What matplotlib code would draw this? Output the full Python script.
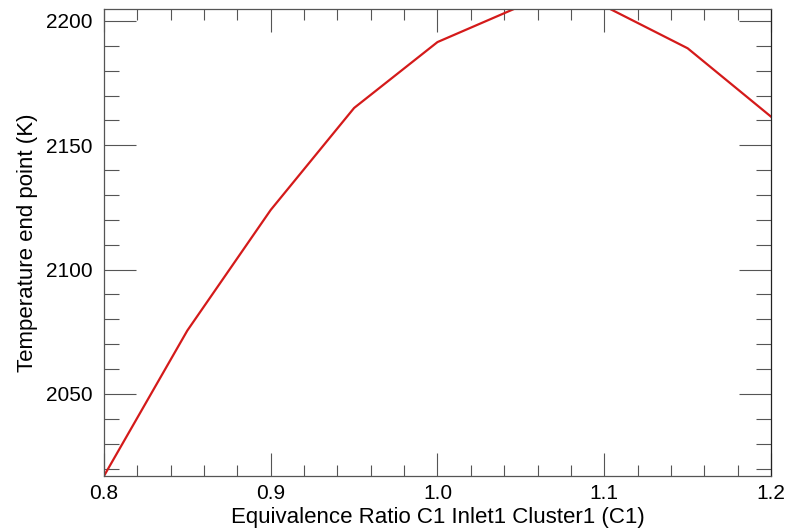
import matplotlib
matplotlib.use('Agg')
import matplotlib.pyplot as plt
from matplotlib.ticker import MultipleLocator

# Equivalence ratio sweep
phi = [0.80, 0.85, 0.90, 0.95, 1.00, 1.05, 1.10, 1.15, 1.20]
temp_end = [2017, 2075.5, 2124, 2165, 2191.5, 2206, 2206, 2189, 2161.5]

plt.rcParams['font.family'] = ['Liberation Sans', 'DejaVu Sans']

fig = plt.figure(figsize=(7.87, 5.29), dpi=100)
ax = fig.add_axes([0.1321, 0.1002, 0.8476, 0.8828])

ax.plot(phi, temp_end, color='#d41a1a', linewidth=1.6)

ax.set_xlim(0.8, 1.2)
ax.set_ylim(2017, 2204.8)
ax.xaxis.set_major_locator(MultipleLocator(0.1))
ax.xaxis.set_minor_locator(MultipleLocator(0.02))
ax.yaxis.set_major_locator(MultipleLocator(50))
ax.yaxis.set_minor_locator(MultipleLocator(10))
ax.set_xticks([0.8, 0.9, 1.0, 1.1, 1.2], ['0.8', '0.9', '1.0', '1.1', '1.2'])

tick_col = '#555555'
ax.tick_params(axis='both', which='both', direction='in', top=True, right=True,
               color=tick_col, width=0.8, labelsize=15)
ax.tick_params(axis='x', which='major', length=16.5, pad=6)
ax.tick_params(axis='x', which='minor', length=8)
ax.tick_params(axis='y', which='major', length=23, pad=8)
ax.tick_params(axis='y', which='minor', length=11)
for s in ax.spines.values():
    s.set_color(tick_col)
    s.set_linewidth(0.9)
ax.spines['right'].set_color('#222222')

ax.set_xlabel('Equivalence Ratio C1 Inlet1 Cluster1 (C1)', fontsize=16, labelpad=3)
ax.set_ylabel('Temperature end point (K)', fontsize=16, labelpad=6)

fig.savefig('out.png', dpi=100)
